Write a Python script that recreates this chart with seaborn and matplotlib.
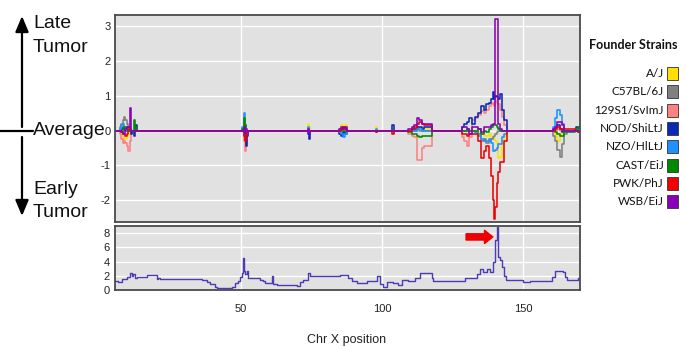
import numpy as np
import pandas as pd
import matplotlib
matplotlib.use('Agg')
import matplotlib.pyplot as plt
from matplotlib.patches import Rectangle
import seaborn as sns

# founder strains, legend order (last one is drawn on top)
strains = ['A/J', 'C57BL/6J', '129S1/SvImJ', 'NOD/ShiLtJ', 'NZO/HlLtJ', 'CAST/EiJ', 'PWK/PhJ', 'WSB/EiJ']
strain_colors = ['#ffe000', '#808080', '#ff8080', '#0a28b4', '#1e90ff', '#008a00', '#f00000', '#8a00b8']

# step positions (Mb) shared by all strains, one line per cluster
pos = [5.0,
       7.0, 7.5, 8.0, 8.5, 9.0, 9.5, 10.0, 10.5, 11.0, 11.5, 12.0, 12.5, 13.0,
       50.5, 50.9, 51.2, 51.5, 51.8, 52.1, 52.4,
       73.8, 74.2, 74.6,
       84.8, 85.5, 86.2, 86.9, 87.6,
       97.8, 98.3,
       103.6, 104.2,
       109.3, 110.5, 111.5, 112.3, 113.2, 114.1, 115.0, 116.0, 117.0, 117.8,
       128.2, 129.0, 130.0, 131.0, 132.0, 133.0, 134.0, 135.0, 136.0, 137.0, 138.0,
       138.8, 139.3, 139.8, 140.2, 140.7, 141.2, 141.8, 142.5, 143.2, 144.2,
       160.0, 160.8, 161.5, 162.2, 163.0, 163.8, 164.6, 165.5, 167.0, 168.5,
       168.9, 169.6, 170.6]

aj = [0,
      0, -0.1, -0.2, -0.25, -0.25, -0.15, -0.1, 0, 0, 0, 0, 0, 0,
      0, 0.05, 0.1, 0, -0.05, 0, 0,
      0.2, 0.1, 0,
      0.05, 0.15, 0.1, 0.15, 0,
      0.1, 0,
      0, 0,
      0, 0, 0.05, 0.1, 0.1, 0.05, 0.05, 0.05, 0.05, 0,
      0, 0, 0, 0, 0, 0, -0.05, -0.1, -0.15, -0.15, -0.1,
      -0.2, -0.25, -0.25, -0.3, -0.35, -0.8, -0.75, -0.35, -0.15, 0,
      0, 0, -0.1, -0.3, -0.15, -0.05, 0, 0, 0, 0,
      0, 0, 0]
b6 = [0,
      0.1, 0.2, 0.3, 0.4, 0.3, 0.2, 0.1, 0, 0, 0, 0, 0, 0,
      0, 0, 0.05, -0.05, 0, 0, 0,
      0, 0, 0,
      0, 0, 0, 0, 0,
      0, 0,
      0, 0,
      0, 0, 0, 0.05, 0, 0, 0, 0, 0, 0,
      0, 0, 0, 0, 0, -0.05, -0.15, -0.3, -0.25, -0.35, -0.3,
      -0.25, -0.2, -0.15, -0.1, -0.05, 0, 0, 0, 0, 0,
      0, -0.15, -0.3, -0.55, -0.75, -0.4, -0.1, 0, 0, 0,
      0, 0, 0]
s129 = [0,
        -0.1, -0.25, -0.35, -0.3, -0.35, -0.45, -0.6, -0.3, -0.1, 0, 0, 0, 0,
        0, -0.1, -0.3, -0.6, -0.35, -0.1, 0,
        0, 0, 0,
        0, 0, -0.05, 0, 0,
        0, 0,
        -0.05, 0,
        -0.1, -0.15, -0.2, -0.85, -0.85, -0.5, -0.45, -0.45, -0.45, 0,
        -0.2, -0.3, -0.45, -0.2, 0.3, 0.35, 0.45, 0.55, 0.5, 0.6, 0.7,
        0.75, 0.8, 0.7, 0.85, 0.8, 0.75, 0.6, 0.4, 0.15, 0,
        0, 0, 0, 0.05, 0, 0, 0, 0, 0, 0,
        0, 0, 0]
nod = [0,
       0, 0.05, 0.1, 0.05, 0, 0, 0, 0.05, -0.1, 0, -0.15, 0.15, 0,
       0, -0.05, 0.05, -0.25, -0.45, -0.15, 0,
       -0.1, -0.25, 0,
       -0.1, -0.15, -0.05, -0.1, 0,
       -0.05, 0,
       0.15, 0,
       0, 0.05, 0.05, 0.1, 0.1, 0.05, 0.1, 0.1, 0.1, 0,
       0.1, 0.2, 0.25, 0.35, 0.2, 0.4, 0.5, 0.7, 0.6, 0.75, 0.8,
       0.9, 1.1, 0.9, 1.0, 0.95, 0.9, 1.05, 0.6, 0.3, 0,
       0, 0.05, 0.1, 0.15, 0.05, -0.05, 0, 0, 0, 0,
       0.1, -0.05, 0]
nzo = [0,
       0.05, 0.15, 0.2, 0.1, 0.05, 0, 0, 0, 0, 0, 0, 0, 0,
       0.1, 0.3, 0.5, 0.15, -0.1, 0, 0,
       0.1, 0, 0,
       -0.05, -0.1, -0.2, -0.1, 0,
       0.05, 0,
       0, 0,
       0, 0, 0, 0.05, 0.05, 0, 0, 0, 0, 0,
       0, 0, 0, 0, 0, -0.05, -0.1, -0.25, -0.3, -0.3, -0.25,
       -0.35, -0.6, -0.6, -0.55, -0.5, -0.4, -0.4, -0.2, -0.1, 0,
       0, 0.1, 0.35, 0.6, 0.45, 0.2, 0, 0, 0, 0,
       0.05, 0, 0]
cast = [0,
        0, 0, 0.05, 0.1, 0.1, 0.05, 0, 0, 0, 0, 0.3, 0.1, 0,
        0.05, 0.2, 0.35, 0.15, 0, 0, 0,
        0, 0, 0,
        0, 0.05, 0, 0, 0,
        0, 0,
        0, 0,
        -0.05, -0.1, -0.1, -0.15, -0.2, -0.15, -0.15, -0.15, -0.15, 0,
        0, 0, 0.05, 0, 0, 0, 0.05, -0.1, 0, -0.05, 0.05,
        0.1, 0.15, 0.15, 0.15, 0.1, 0.05, 0, 0, 0, 0,
        0, 0, -0.05, -0.1, -0.15, -0.15, -0.05, -0.05, -0.05, 0,
        0.05, 0.1, 0]
pwk = [0,
       0, -0.05, -0.1, -0.1, -0.15, -0.1, 0.1, 0.05, 0, 0, 0, 0, 0,
       0, -0.05, -0.15, -0.3, -0.15, 0, 0,
       0, 0, 0,
       0, 0.05, 0.1, 0.05, 0,
       -0.05, 0,
       -0.1, 0,
       0, 0.05, 0.1, 0.2, 0.25, 0.2, 0.15, 0.15, 0.15, 0,
       -0.1, -0.1, -0.15, -0.1, -0.1, -0.1, -0.3, -0.8, -0.6, -0.45, -0.8,
       -1.3, -2.0, -2.55, -2.2, -1.5, -1.2, -0.9, -0.9, -0.3, 0,
       0, 0, 0.05, 0.1, 0.05, 0.05, 0.05, 0.05, 0.05, 0,
       0, -0.05, 0]
wsb = [0,
       0, -0.05, -0.1, -0.1, 0.05, 0.1, 0.1, 0.65, 0, 0, 0, 0, 0,
       0, 0.05, 0.1, -0.1, 0.05, 0, 0,
       0.05, -0.1, 0,
       0.05, 0.1, 0.05, 0.1, 0,
       0, 0,
       0, 0,
       0.05, 0.1, 0.15, 0.35, 0.3, 0.2, 0.2, 0.2, 0.2, 0,
       0.1, 0.1, 0.05, -0.1, 0.1, 0.1, 0.05, -0.05, 0.1, 0.1, 0.1,
       0.15, 0.2, 0.2, 3.2, 3.2, 0.2, 0.05, 0, 0, 0,
       0, 0.05, 0.1, 0.25, 0.25, 0.15, 0, 0, 0, 0,
       0, 0, 0]

# LOD score along chr X
lod_pos = [5.3, 6.5, 7.7, 9.5, 10.6, 11.2, 11.8, 12.4, 13.0, 14.2, 16.5, 20.1, 20.7, 21.3,
           36.0, 37.8, 39.0, 40.8, 41.4, 46.7, 47.9, 49.0, 49.6, 50.2, 50.6, 51.1, 51.4,
           52.0, 52.6, 53.2, 56.7, 57.9, 58.5, 61.1, 61.5, 62.6, 69.7, 70.9, 72.1, 73.9,
           74.5, 75.6, 85.1, 86.9, 88.1, 89.2, 91.0, 92.8, 94.6, 96.3, 98.1, 99.3, 100.5,
           101.7, 104.0, 105.8, 107.0, 109.3, 111.7, 113.5, 117.0, 117.6, 118.2, 129.4,
           133.6, 134.8, 135.9, 137.1, 138.3, 139.2, 140.1, 140.7, 141.2, 141.8, 142.4,
           143.3, 144.0, 145.4, 150.1, 152.5, 160.2, 161.3, 164.3, 164.9, 165.5, 169.6, 170.2]
lod_val = [1.3, 1.15, 1.5, 1.75, 2.4, 2.0, 2.2, 1.65, 1.85, 1.75, 2.05, 1.5, 1.65, 1.55,
           1.4, 1.15, 0.8, 0.35, 0.2, 0.4, 0.9, 1.2, 1.85, 2.3, 4.5, 2.7, 2.2,
           2.6, 1.65, 1.6, 1.4, 1.3, 0.95, 2.0, 0.8, 0.7, 0.5, 1.05, 1.35, 2.3,
           2.0, 1.9, 2.1, 2.05, 1.65, 1.2, 0.95, 0.9, 1.2, 1.3, 2.0, 0.8, 0.4,
           1.05, 0.9, 0.7, 1.35, 1.2, 1.65, 2.4, 2.3, 1.65, 1.3, 1.65,
           2.2, 2.9, 2.45, 2.9, 2.45, 3.9, 7.0, 8.9, 4.6, 4.2, 3.2,
           2.0, 1.35, 1.4, 1.15, 1.3, 1.75, 2.65, 2.55, 1.75, 1.35, 1.7, 1.2]

top_ticks = [-2, -1, 0, 1, 2, 3]
lod_ticks = [0, 2, 4, 6, 8]
x_ticks = [50, 100, 150]

sns.set_style('darkgrid', {'axes.facecolor': '#e1e1e1', 'grid.color': 'white',
                           'axes.edgecolor': '#4a4a4a'})
plt.rcParams['font.family'] = ['Liberation Sans', 'DejaVu Sans']

effects = pd.concat([pd.DataFrame({'pos': pos, 'effect': v, 'strain': s})
                     for s, v in zip(strains, [aj, b6, s129, nod, nzo, cast, pwk, wsb])])

W, H = 686, 348
fig = plt.figure(figsize=(W / 100, H / 100), dpi=100)
ax1 = fig.add_axes([115 / W, 1 - 222 / H, 465 / W, 207 / H])
ax2 = fig.add_axes([115 / W, 1 - 290 / H, 465 / W, 64 / H])

sns.lineplot(data=effects, x='pos', y='effect', hue='strain', hue_order=strains,
             palette=dict(zip(strains, strain_colors)), estimator=None, sort=False,
             drawstyle='steps-post', lw=1.15, legend=False, ax=ax1)
sns.lineplot(x=lod_pos, y=lod_val, color='#4a3cb4', lw=1.0, estimator=None, sort=False,
             drawstyle='steps-post', ax=ax2)

tick_font = ['Liberation Sans']
for ax in (ax1, ax2):
    ax.set_xlim(5.3, 170.2)
    ax.set_xticks(x_ticks)
    ax.set_xlabel('')
    ax.set_ylabel('')
    ax.grid(True, color='white', lw=1.0)
    ax.tick_params(length=0, labelsize=8, labelcolor='#222222')
    for sp in ax.spines.values():
        sp.set_visible(True)
        sp.set_color('#4a4a4a')
        sp.set_linewidth(1.3)

ax1.set_ylim(-2.63, 3.32)
ax1.set_yticks(top_ticks)
ax1.set_yticklabels([str(t) for t in top_ticks], family=tick_font)
ax1.tick_params(axis='x', labelbottom=False)
ax1.tick_params(axis='y', pad=3)

ax2.set_ylim(-0.05, 9.05)
ax2.set_yticks(lod_ticks)
ax2.set_yticklabels([str(t) for t in lod_ticks], family=tick_font)
ax2.set_xticklabels([str(t) for t in x_ticks], family=tick_font)
ax2.tick_params(axis='x', pad=10)
ax2.tick_params(axis='y', pad=4)

# red arrow pointing at the LOD peak
ax2.annotate('', xy=(139.3, 7.5), xytext=(129.8, 7.5),
             arrowprops=dict(arrowstyle='simple,head_length=0.6,head_width=0.95,tail_width=0.45',
                             color='#ee0000', shrinkA=0, shrinkB=0))

fig.text(347 / W, 1 - 340 / H, 'Chr X position', ha='center', va='center',
         fontsize=9, family=tick_font, color='#222222')

# left side annotation: Late / Average / Early
def fp(x, y):
    return (x / W, 1 - y / H)

arrow_kw = dict(arrowstyle='-|>,head_length=0.95,head_width=0.4', color='black', lw=1.6,
                shrinkA=0, shrinkB=0)
ax1.annotate('', xy=fp(22, 16), xytext=fp(22, 127), xycoords='figure fraction',
             textcoords='figure fraction', arrowprops=arrow_kw, annotation_clip=False)
ax1.annotate('', xy=fp(22, 216), xytext=fp(22, 137), xycoords='figure fraction',
             textcoords='figure fraction', arrowprops=arrow_kw, annotation_clip=False)
fig.add_artist(plt.Line2D([0, 33 / W], [1 - 131 / H] * 2, color='black', lw=1.6))
for txt, y in [('Late', 24), ('Tumor', 47), ('Average', 131), ('Early', 189), ('Tumor', 213)]:
    fig.text(33 / W, 1 - y / H, txt, ha='left', va='center', fontsize=14, color='#111111')

# legend
fig.text(633 / W, 1 - 45 / H, 'Founder Strains', ha='center', va='center',
         fontsize=9, fontweight='bold', family=['Lato', 'DejaVu Sans'], color='#111111')
for i, (s, c) in enumerate(zip(strains, strain_colors)):
    yc = 73.3 + i * 18.35
    fig.text(664 / W, 1 - yc / H, s, ha='right', va='center', fontsize=8.5,
             family=['Lato', 'DejaVu Sans'], color='#111111')
    fig.add_artist(Rectangle((667 / W, 1 - (yc + 6.5) / H), 11 / W, 13 / H,
                             facecolor=c, edgecolor='#333333', lw=0.6))

fig.savefig('out.png', dpi=100)
